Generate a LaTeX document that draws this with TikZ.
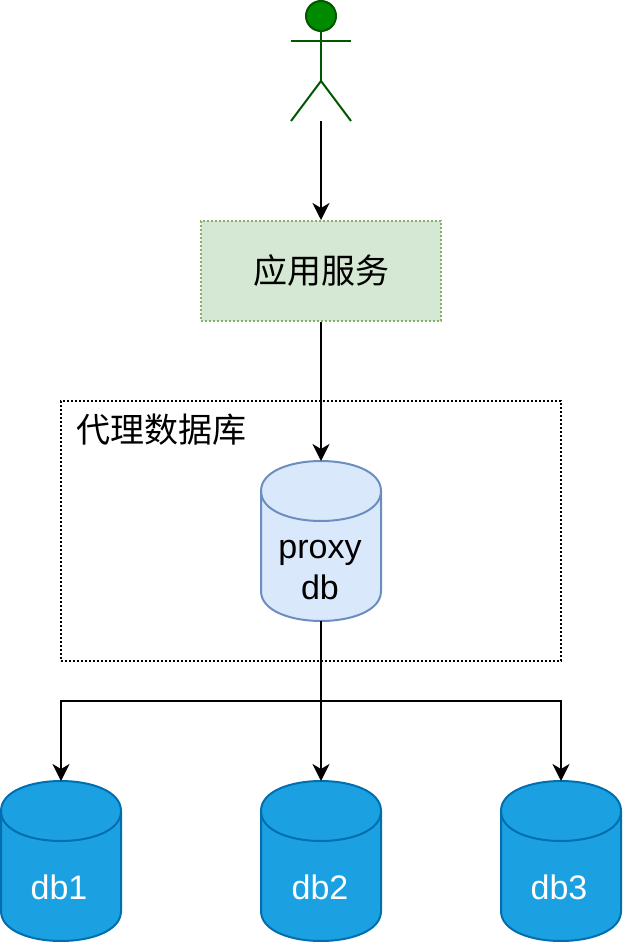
\documentclass[tikz,border=0pt]{standalone}
\usepackage{fontspec}
\setmainfont{Liberation Sans}
\newfontfamily\cjk{Noto Sans CJK SC}
\usetikzlibrary{arrows.meta}
\definecolor{appfill}{HTML}{D5E8D4}
\definecolor{appline}{HTML}{82B366}
\definecolor{proxyfill}{HTML}{DAE8FC}
\definecolor{proxyline}{HTML}{6C8EBF}
\definecolor{dbfill}{HTML}{1BA1E2}
\definecolor{dbline}{HTML}{006EAF}
\definecolor{userfill}{HTML}{008A00}
\definecolor{userline}{HTML}{005700}
\tikzset{
  x=1pt,y=-1pt,
  conn/.style={line width=2pt,-{Stealth[length=17pt,width=17pt,inset=5pt]}},
  label/.style={inner sep=0pt,font=\fontsize{34}{41}\selectfont,align=center,anchor=center},
  cjklabel/.style={inner sep=0pt,font=\fontsize{34}{41}\selectfont\cjk,align=center,anchor=center},
  cyl/.style={inner sep=0pt,minimum width=120pt,minimum height=160pt,anchor=north},
  person/.style={line width=2pt,draw=userline},
}
% #1 name, #2 centre x, #3 top y, #4 fill, #5 line
\newcommand{\dbshape}[5]{%
  \begin{scope}[shift={(#2-60,#3)}]
    \draw[line width=2pt,draw=#5,fill=#4,line join=round]
      (0,30) .. controls (0,-10) and (120,-10) .. (120,30)
      -- (120,130) .. controls (120,170) and (0,170) .. (0,130) -- cycle;
    \draw[line width=2pt,draw=#5] (0,30) .. controls (0,70) and (120,70) .. (120,30);
  \end{scope}
  \node[cyl] (#1) at (#2,#3) {};
}
\begin{document}
\begin{tikzpicture}
\useasboundingbox (0,0) rectangle (622,942);
% outer proxy box
\node[draw=black,line width=2pt,dash pattern=on 2pt off 2pt,inner sep=0pt,minimum width=500pt,minimum height=260pt] (group) at (311,531) {};
\node[cjklabel] (grouplabel) at (161,430) {代理数据库};
% user
\node[inner sep=0pt,minimum width=60pt,minimum height=120pt] (user) at (321,61) {};
\node[circle,draw=userline,fill=userfill,line width=2pt,inner sep=0pt,minimum size=30pt] (head) at (321,16) {};
\draw[person] (head.south) -- (321,81);
\draw[person] (291,41) -- (351,41);
\draw[person,line join=miter] (291,121) -- (321,81) -- (351,121);
% application
\node[draw=appline,fill=appfill,line width=2pt,dash pattern=on 2pt off 2pt,inner sep=0pt,minimum width=240pt,minimum height=100pt,cjklabel] (app) at (321,271) {应用服务};
% cylinders
\dbshape{proxy}{321}{461}{proxyfill}{proxyline}
\node[label] (proxylabel) at (320,570) {proxy\\db};
\dbshape{dba}{61}{781}{dbfill}{dbline}
\node[label,text=white] (dbalabel) at (59,887) {db1};
\dbshape{dbb}{321}{781}{dbfill}{dbline}
\node[label,text=white] (dbblabel) at (320,887) {db2};
\dbshape{dbc}{561}{781}{dbfill}{dbline}
\node[label,text=white] (dbclabel) at (559,887) {db3};
% connectors
\draw[conn] (user.south) -- (app.north);
\draw[conn] (app.south) -- (proxy.north);
\draw[conn] (proxy.south) -- ++(0,80) -| (dba.north);
\draw[conn] (proxy.south) -- (dbb.north);
\draw[conn] (proxy.south) -- ++(0,80) -| (dbc.north);
\end{tikzpicture}
\end{document}
